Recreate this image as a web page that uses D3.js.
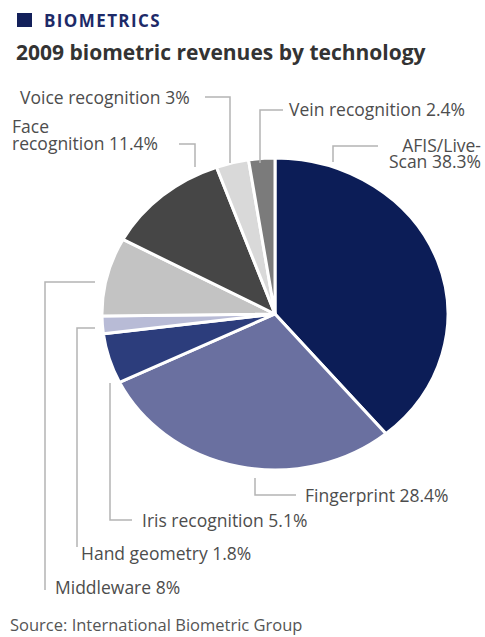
<!DOCTYPE html>
<html>
<head>
<meta charset="utf-8">
<script src="https://cdn.jsdelivr.net/npm/d3@7"></script>
<style>
  html, body { margin: 0; padding: 0; background: #fff; }
  svg { display: block; }
  .lbl { font-family: "Open Sans", "DejaVu Sans", sans-serif; fill: #4d4d4d; }
</style>
</head>
<body>
<div id="chart"></div>
<script>
// 2009 biometric revenues by technology (clockwise from 12 o'clock)
var categories = ['AFIS/Live-Scan', 'Fingerprint', 'Iris recognition', 'Hand geometry',
  'Middleware', 'Face recognition', 'Voice recognition', 'Vein recognition'];
var shares = [38.3, 28.4, 5.1, 1.8, 8, 11.4, 3, 2.4];
var sliceColors = ['#0c1d57', '#6a70a0', '#2c3d7c', '#b8bbd6', '#c3c3c3', '#464646', '#d9d9d9', '#7b7b7b'];
var labelLines = [
  ['AFIS/Live-', 'Scan 38.3%'],
  ['Fingerprint 28.4%'],
  ['Iris recognition 5.1%'],
  ['Hand geometry 1.8%'],
  ['Middleware 8%'],
  ['Face', 'recognition 11.4%'],
  ['Voice recognition 3%'],
  ['Vein recognition 2.4%']
];

(function () {
  'use strict';

  var W = 485, H = 637;
  var cx = 275, cy = 314, rx = 173, ry = 156;

  var svg = d3.select('#chart').append('svg').attr('width', W).attr('height', H);

  // header
  svg.append('rect').attr('x', 17).attr('y', 13).attr('width', 15).attr('height', 14).attr('fill', '#13205a');
  svg.append('text').attr('class', 'lbl').attr('x', 44).attr('y', 27)
    .style('font-weight', 'bold').style('font-size', '17px').style('letter-spacing', '1.4px')
    .style('fill', '#1d2a68')
    .text('BIOMETRICS');
  svg.append('text').attr('class', 'lbl').attr('x', 16).attr('y', 60)
    .style('font-weight', 'bold').style('font-size', '21px').style('fill', '#333')
    .text('2009 biometric revenues by technology');

  // pie (drawn on a unit radius, stretched to the elliptical shape of the original)
  var pie = d3.pie().sort(null).value(function (d) { return d; });
  var arc = d3.arc().innerRadius(0).outerRadius(1);
  var arcs = pie(shares);

  var g = svg.append('g')
    .attr('transform', 'translate(' + cx + ',' + cy + ') scale(' + rx + ',' + ry + ')');
  g.selectAll('path').data(arcs).enter().append('path')
    .attr('d', arc)
    .attr('fill', function (d, i) { return sliceColors[i]; })
    .attr('stroke', '#fff').attr('stroke-width', 3)
    .attr('vector-effect', 'non-scaling-stroke');

  // leader lines: polylines in page coordinates, one per label
  var leaders = [
    [[333, 162], [333, 146], [378, 146]],
    [[255, 478], [255, 495], [296, 495]],
    [[110, 383], [110, 520], [132, 520]],
    [[95, 328], [77, 328], [77, 547]],
    [[95, 282], [45, 282], [45, 590]],
    [[179, 144], [195, 144], [195, 167]],
    [[205, 97], [230, 97], [230, 163]],
    [[283, 110], [260, 110], [260, 163]]
  ];
  var line = d3.line();
  svg.append('g').selectAll('path').data(leaders).enter().append('path')
    .attr('d', line).attr('fill', 'none').attr('stroke', '#b4b4b4').attr('stroke-width', 1.5);

  // label anchors: [x, first baseline, anchor, leading] -- the original sets two-line labels tight
  var labelPos = [
    [481, 152, 'end', 16],
    [305, 502, 'start', 0],
    [142, 527, 'start', 0],
    [81, 560, 'start', 0],
    [55, 594, 'start', 0],
    [12, 133, 'start', 17],
    [20, 104, 'start', 0],
    [289, 116, 'start', 0]
  ];
  var lg = svg.append('g');
  labelLines.forEach(function (lines, i) {
    var p = labelPos[i];
    var t = lg.append('text').attr('class', 'lbl')
      .attr('x', p[0]).attr('y', p[1]).attr('text-anchor', p[2]).style('font-size', '17.5px');
    lines.forEach(function (s, k) {
      t.append('tspan').attr('x', p[0]).attr('dy', k ? p[3] : 0).text(s);
    });
  });

  svg.append('text').attr('class', 'lbl').attr('x', 10).attr('y', 631)
    .style('font-size', '16.5px').style('fill', '#555')
    .text('Source: International Biometric Group');
})();
</script>
</body>
</html>
